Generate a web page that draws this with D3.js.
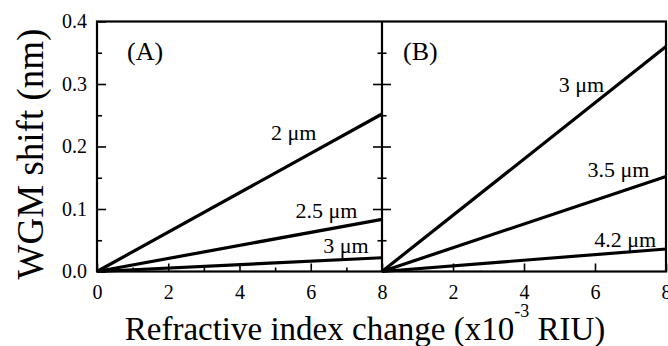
<!DOCTYPE html>
<html>
<head>
<meta charset="utf-8">
<script src="https://cdn.jsdelivr.net/npm/d3@7"></script>
<style>
  body { margin: 0; background: #fff; }
  svg text { font-family: "Liberation Serif", "DejaVu Serif", serif; fill: #000; }
</style>
</head>
<body>
<div id="chart"></div>
<script>
// x range for both panels (x10^-3 RIU)
var xRange = [0, 8];

// panel A: ring diameters and shift at the end of the range
var seriesA = ["2 \u03bcm", "2.5 \u03bcm", "3 \u03bcm"];
var shiftA = [0.252, 0.0835, 0.022];

// panel B
var seriesB = ["3 \u03bcm", "3.5 \u03bcm", "4.2 \u03bcm"];
var shiftB = [0.360, 0.152, 0.036];

var yTicks = [0, 0.1, 0.2, 0.3, 0.4];
var yMinor = [0.05, 0.15, 0.25, 0.35];
var xTicksA = [0, 2, 4, 6, 8];
var xMinorA = [1, 3, 5, 7];
var xTicksB = [2, 4, 6, 8];

// label anchor points, in data units of each panel
var labelPosA = [[5.52, 0.210], [6.44, 0.0856], [6.99, 0.0296]];
var labelPosB = [[5.62, 0.287], [6.66, 0.151], [6.85, 0.039]];

var W = 668, H = 346;
var m = { left: 97, mid: 382, right: 666, top: 21.5, bottom: 271.5 };

var svg = d3.select("#chart").append("svg")
    .attr("width", W)
    .attr("height", H);

var y = d3.scaleLinear().domain([0, 0.4]).range([m.bottom, m.top]);
var xA = d3.scaleLinear().domain(xRange).range([m.left, m.mid]);
var xB = d3.scaleLinear().domain(xRange).range([m.mid, m.right]);

function styleAxis(g) {
    g.attr("font-size", null).attr("font-family", null);
    g.select(".domain").remove();
    g.selectAll(".tick line").attr("stroke", "#000").attr("stroke-width", 1.6);
    g.selectAll(".tick text")
        .style("font-size", "20px")
        .style("font-family", "'Liberation Serif', 'DejaVu Serif', serif")
        .attr("fill", "#000");
}

// left y axis of panel A
svg.append("g").attr("transform", "translate(" + m.left + ",0)")
    .call(d3.axisLeft(y).tickValues(yTicks).tickSize(-9).tickPadding(10).tickFormat(d3.format(".1f")))
    .call(styleAxis);
svg.append("g").attr("transform", "translate(" + m.left + ",0)")
    .call(d3.axisLeft(y).tickValues(yMinor).tickSize(-5).tickFormat(""))
    .call(styleAxis);

// divider: ticks on both sides
svg.append("g").attr("transform", "translate(" + m.mid + ",0)")
    .call(d3.axisRight(y).tickValues(yTicks.slice(1, 4)).tickSize(-9).tickFormat(""))
    .call(styleAxis);
svg.append("g").attr("transform", "translate(" + m.mid + ",0)")
    .call(d3.axisLeft(y).tickValues(yTicks.slice(1, 4)).tickSize(-9).tickFormat(""))
    .call(styleAxis);
svg.append("g").attr("transform", "translate(" + m.mid + ",0)")
    .call(d3.axisRight(y).tickValues(yMinor).tickSize(-4.5).tickFormat(""))
    .call(styleAxis);
svg.append("g").attr("transform", "translate(" + m.mid + ",0)")
    .call(d3.axisLeft(y).tickValues(yMinor).tickSize(-4.5).tickFormat(""))
    .call(styleAxis);

// bottom axes
svg.append("g").attr("transform", "translate(0," + m.bottom + ")")
    .call(d3.axisBottom(xA).tickValues(xTicksA).tickSize(-8).tickPadding(13).tickFormat(d3.format("d")))
    .call(styleAxis);
svg.append("g").attr("transform", "translate(0," + m.bottom + ")")
    .call(d3.axisBottom(xA).tickValues(xMinorA).tickSize(-4).tickFormat(""))
    .call(styleAxis);
svg.append("g").attr("transform", "translate(0," + m.bottom + ")")
    .call(d3.axisBottom(xB).tickValues(xTicksB).tickSize(-8).tickPadding(13).tickFormat(d3.format("d")))
    .call(styleAxis);

// frame
svg.append("rect")
    .attr("x", m.left).attr("y", m.top)
    .attr("width", m.right - m.left).attr("height", m.bottom - m.top)
    .attr("fill", "none").attr("stroke", "#000").attr("stroke-width", 2.2);
svg.append("line")
    .attr("x1", m.mid).attr("x2", m.mid).attr("y1", m.top).attr("y2", m.bottom)
    .attr("stroke", "#000").attr("stroke-width", 2.2);

// lines
var line = function(x) {
    return d3.line().x(function(d) { return x(d[0]); }).y(function(d) { return y(d[1]); });
};
function drawPanel(x, shifts, names, pos) {
    var data = shifts.map(function(s, i) {
        return { name: names[i], pts: [[xRange[0], 0], [xRange[1], s]], pos: pos[i] };
    });
    svg.selectAll(null).data(data).enter().append("path")
        .attr("d", function(d) { return line(x)(d.pts); })
        .attr("fill", "none").attr("stroke", "#000").attr("stroke-width", 3.2);
    svg.selectAll(null).data(data).enter().append("text")
        .attr("x", function(d) { return x(d.pos[0]); })
        .attr("y", function(d) { return y(d.pos[1]); })
        .attr("text-anchor", "middle")
        .style("font-size", "22px")
        .text(function(d) { return d.name; });
}
drawPanel(xA, shiftA, seriesA, labelPosA);
drawPanel(xB, shiftB, seriesB, labelPosB);

// panel letters
svg.append("text").attr("x", 127).attr("y", 60).style("font-size", "26px").text("(A)");
svg.append("text").attr("x", 403).attr("y", 60).style("font-size", "26px").text("(B)");

// axis titles
svg.append("text")
    .attr("transform", "translate(43,154) rotate(-90)")
    .attr("text-anchor", "middle")
    .style("font-size", "37px")
    .text("WGM shift (nm)");

var xt = svg.append("text")
    .attr("x", 365).attr("y", 340)
    .attr("text-anchor", "middle")
    .style("font-size", "33px");
xt.append("tspan").text("Refractive index change (x10");
xt.append("tspan").attr("dy", -23).style("font-size", "18px").text("-3");
xt.append("tspan").attr("dy", 23).text(" RIU)");
</script>
</body>
</html>
